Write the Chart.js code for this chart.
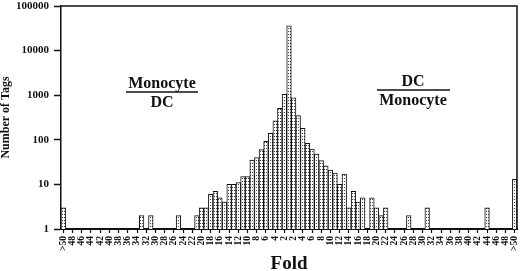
<!DOCTYPE html>
<html>
<head>
<meta charset="utf-8">
<script src="https://cdn.jsdelivr.net/npm/chart.js@4.4.0/dist/chart.umd.min.js"></script>
<style>
html, body { margin: 0; padding: 0; background: #fff; }
#wrap { width: 520px; height: 271px; }
</style>
</head>
<body>
<div id="wrap"><canvas id="chart"></canvas></div>
<script>
// Fold bins: Monocyte/DC on the left, DC/Monocyte on the right
const binLabels = [
    '>50', '49', '48', '47', '46', '45', '44', '43', '42', '41',
    '40', '39', '38', '37', '36', '35', '34', '33', '32', '31',
    '30', '29', '28', '27', '26', '25', '24', '23', '22', '21',
    '20', '19', '18', '17', '16', '15', '14', '13', '12', '11',
    '10', '9', '8', '7', '6', '5', '4', '3', '2', '1',
    '2', '3', '4', '5', '6', '7', '8', '9', '10', '11',
    '12', '13', '14', '15', '16', '17', '18', '19', '20', '21',
    '22', '23', '24', '25', '26', '27', '28', '29', '30', '31',
    '32', '33', '34', '35', '36', '37', '38', '39', '40', '41',
    '42', '43', '44', '45', '46', '47', '48', '49', '>50'
];

// Number of tags in each bin (null = empty bin)
const tagCounts = [
    3, null, null, null, null, null, null, null, null, null,
    null, null, null, null, null, null, null, 2, null, 2,
    null, null, null, null, null, 2, null, null, null, 2,
    3, 3, 6, 7, 5, 4, 10, 10, 11, 15,
    15, 35, 40, 60, 93, 139, 268, 505, 1050, 36000,
    875, 347, 180, 83, 62, 48, 34, 26, 21, 18,
    10, 17, 3, 7, 4, 5, null, 5, 3, 2,
    3, null, null, null, null, 2, null, null, null, 3,
    null, null, null, null, null, null, null, null, null, null,
    null, null, 3, null, null, null, null, null, 13
];

const yTicks = [1, 10, 100, 1000, 10000, 100000];

const serif = 'Liberation Serif';
const ink = '#111';

const ctx = document.getElementById('chart').getContext('2d');

function dotPattern() {
    const c = document.createElement('canvas');
    c.width = 2;
    c.height = 3;
    const g = c.getContext('2d');
    g.fillStyle = '#fff';
    g.fillRect(0, 0, 2, 3);
    g.fillStyle = '#444';
    g.fillRect(0, 1, 1, 1);
    return ctx.createPattern(c, 'repeat');
}

// box around the plot plus the two ratio captions
const framePlugin = {
    id: 'frame',
    afterDraw(chart) {
        const { ctx, chartArea: a } = chart;
        ctx.save();
        ctx.strokeStyle = ink;
        ctx.lineWidth = 1.5;
        ctx.beginPath();
        ctx.moveTo(a.left, a.top);
        ctx.lineTo(a.right, a.top);
        ctx.lineTo(a.right, a.bottom);
        ctx.stroke();

        ctx.fillStyle = ink;
        ctx.textAlign = 'center';
        ctx.textBaseline = 'alphabetic';
        ctx.font = 'bold 16px "' + serif + '"';
        drawRatio(ctx, 162, 'Monocyte', 'DC', 126, 198, 92);
        drawRatio(ctx, 413, 'DC', 'Monocyte', 377, 450, 90);
        ctx.restore();
    }
};

function drawRatio(ctx, cx, top, bottom, x1, x2, lineY) {
    ctx.fillText(top, cx, lineY - 4);
    ctx.lineWidth = 1.5;
    ctx.beginPath();
    ctx.moveTo(x1, lineY);
    ctx.lineTo(x2, lineY);
    ctx.stroke();
    ctx.fillText(bottom, cx, lineY + 15);
}

new Chart(ctx, {
    type: 'bar',
    data: {
        labels: binLabels,
        datasets: [{
            data: tagCounts,
            backgroundColor: dotPattern(),
            borderColor: ink,
            borderWidth: 1,
            categoryPercentage: 1,
            barPercentage: 1
        }]
    },
    options: {
        responsive: true,
        maintainAspectRatio: false,
        animation: false,
        layout: { padding: { top: 6, right: 3, left: 0, bottom: 0 } },
        plugins: {
            legend: { display: false },
            tooltip: { enabled: false }
        },
        scales: {
            x: {
                grid: {
                    offset: false,
                    drawOnChartArea: false,
                    tickLength: 4,
                    tickWidth: 1.2,
                    tickColor: c => (c.index % 2 === 0 ? ink : 'rgba(0,0,0,0)')
                },
                border: { color: ink, width: 2 },
                ticks: {
                    autoSkip: false,
                    minRotation: 90,
                    maxRotation: 90,
                    padding: 3,
                    color: ink,
                    font: { family: serif, size: 9.5, weight: 'bold', lineHeight: 1 },
                    callback: (v, i) => (i % 2 === 0 ? binLabels[i] : '')
                },
                title: {
                    display: true,
                    text: 'Fold',
                    color: ink,
                    font: { family: serif, size: 19, weight: 'bold', lineHeight: 1 },
                    padding: { top: 0, bottom: -3 }
                },
                afterFit: s => {
                    s.height = 42;
                    s.paddingLeft = 0;
                    s.paddingRight = 0;
                }
            },
            y: {
                type: 'logarithmic',
                min: 1,
                max: 100000,
                afterBuildTicks: s => { s.ticks = yTicks.map(v => ({ value: v })); },
                border: { color: ink, width: 1.5 },
                grid: {
                    drawOnChartArea: false,
                    tickLength: 7,
                    tickWidth: 1.5,
                    tickColor: ink
                },
                ticks: {
                    padding: 5,
                    color: ink,
                    font: { family: serif, size: 11, weight: 'bold', lineHeight: 1 },
                    callback: v => String(v)
                },
                title: {
                    display: true,
                    text: 'Number of Tags',
                    color: ink,
                    font: { family: serif, size: 12, weight: 'bold', lineHeight: 1 },
                    padding: { top: 0, bottom: 0 }
                },
                afterFit: s => {
                    s.width = 61;
                    s.paddingTop = 0;
                    s.paddingBottom = 0;
                }
            }
        }
    },
    plugins: [framePlugin]
});
</script>
</body>
</html>
